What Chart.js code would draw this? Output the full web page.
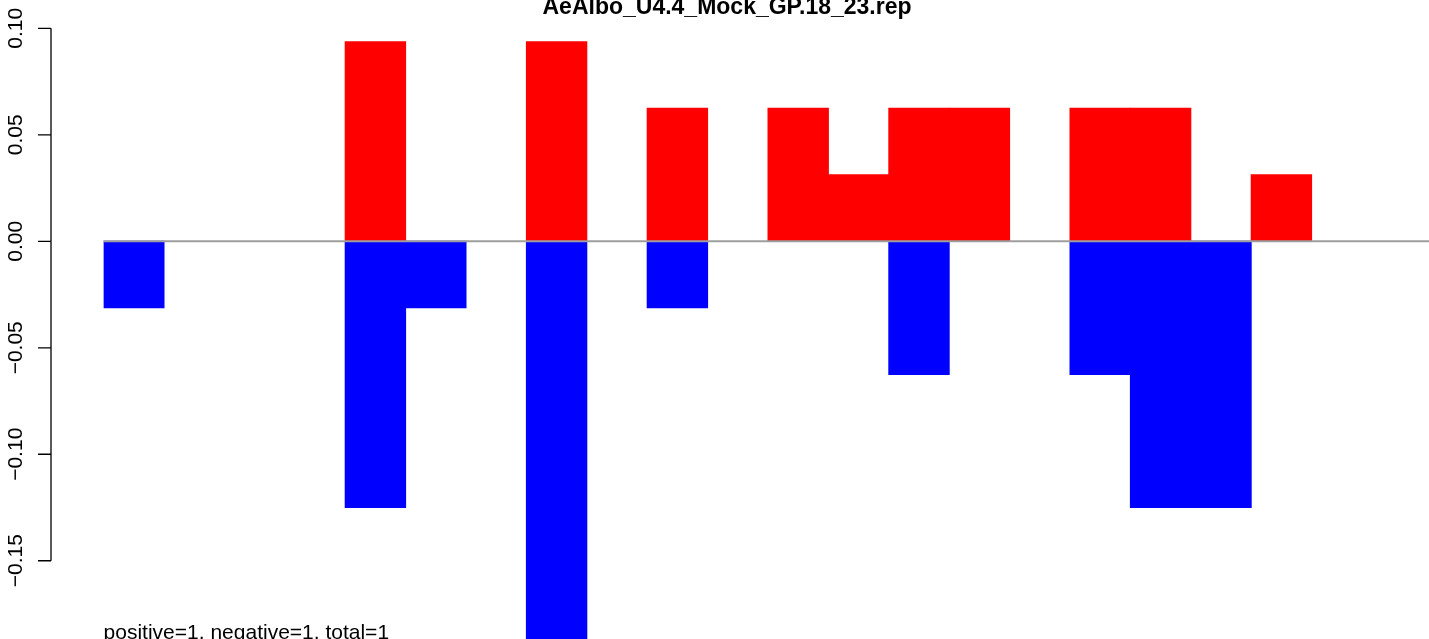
<!DOCTYPE html>
<html>
<head>
<meta charset="utf-8">
<title>AeAlbo_U4.4_Mock_GP.18_23.rep</title>
<script src="https://cdn.jsdelivr.net/npm/chart.js@4/dist/chart.umd.min.js"></script>
<style>
    html, body { margin: 0; padding: 0; background: #fff; overflow: hidden; }
    #wrap { width: 1429px; height: 639px; overflow: hidden; }
</style>
</head>
<body>
<div id="wrap"><canvas id="chart" width="1433" height="639"></canvas></div>
<script>
// Chart data
const chartTitle = 'AeAlbo_U4.4_Mock_GP.18_23.rep';
const footNote = 'positive=1, negative=1, total=1';
const categories = ['1', '2', '3', '4', '5', '6', '7', '8', '9', '10', '11',
    '12', '13', '14', '15', '16', '17', '18', '19', '20', '21', '22'];
const positiveValues = [0, 0, 0, 0, 0.09375, 0, 0, 0.09375, 0, 0.0625, 0,
    0.0625, 0.03125, 0.0625, 0.0625, 0, 0.0625, 0.0625, 0, 0.03125, 0, 0];
const negativeValues = [-0.03125, 0, 0, 0, -0.125, -0.03125, 0, -0.1875, 0, -0.03125, 0,
    0, 0, -0.0625, 0, 0, -0.0625, -0.125, -0.125, 0, 0, 0];
const yTicks = [-0.15, -0.10, -0.05, 0, 0.05, 0.10];
const yTickLabels = ['\u22120.15', '\u22120.10', '\u22120.05', '0.00', '0.05', '0.10'];
const yRange = [-0.18675, 0.11331];

const FONT = '"Liberation Sans", Arial, Helvetica, sans-serif';

// empty slots are left out so no hairline bar is drawn
function dropZeros(values) {
    return values.map(v => (v === 0 ? null : v));
}

// Draws the R-style axis, zero line, title and note
const baseGraphics = {
    id: 'baseGraphics',
    afterDatasetsDraw(chart) {
        const ctx = chart.ctx;
        const y = chart.scales.y;
        const x = chart.scales.x;
        const axisX = 51;

        ctx.save();

        // zero line
        const zeroY = y.getPixelForValue(0);
        ctx.strokeStyle = '#9e9e9e';
        ctx.lineWidth = 2;
        ctx.beginPath();
        ctx.moveTo(x.left, zeroY);
        ctx.lineTo(chart.width, zeroY);
        ctx.stroke();

        // y axis
        const top = y.getPixelForValue(yTicks[yTicks.length - 1]);
        const bottom = y.getPixelForValue(yTicks[0]);
        ctx.strokeStyle = '#000';
        ctx.lineWidth = 1.3;
        ctx.beginPath();
        ctx.moveTo(axisX, top);
        ctx.lineTo(axisX, bottom);
        yTicks.forEach(function(v) {
            const py = y.getPixelForValue(v);
            ctx.moveTo(axisX, py);
            ctx.lineTo(axisX - 13, py);
        });
        ctx.stroke();

        // rotated tick labels
        ctx.fillStyle = '#000';
        ctx.font = '21px ' + FONT;
        ctx.textAlign = 'center';
        ctx.textBaseline = 'alphabetic';
        yTicks.forEach(function(v, i) {
            const py = y.getPixelForValue(v);
            ctx.save();
            ctx.translate(22, py);
            ctx.rotate(-Math.PI / 2);
            ctx.fillText(yTickLabels[i], 0, 0);
            ctx.restore();
        });

        // title
        ctx.font = 'bold 23px ' + FONT;
        ctx.textAlign = 'center';
        ctx.fillText(chartTitle, 727, 14);

        // note at the bottom
        ctx.font = '21px ' + FONT;
        ctx.textAlign = 'left';
        ctx.fillText(footNote, x.left, 639);

        ctx.restore();
    }
};

function initializeChart() {
    const ctx = document.getElementById('chart').getContext('2d');
    new Chart(ctx, {
        type: 'bar',
        data: {
            labels: categories,
            datasets: [
                {
                    label: 'positive',
                    data: dropZeros(positiveValues),
                    backgroundColor: '#ff0000',
                    borderWidth: 0,
                    inflateAmount: 0.5,
                    barPercentage: 1,
                    categoryPercentage: 1
                },
                {
                    label: 'negative',
                    data: dropZeros(negativeValues),
                    backgroundColor: '#0000ff',
                    borderWidth: 0,
                    inflateAmount: 0.5,
                    barPercentage: 1,
                    categoryPercentage: 1
                }
            ]
        },
        options: {
            responsive: false,
            animation: false,
            layout: {
                padding: { left: 103.6, right: 0.6, top: 0, bottom: 0 }
            },
            plugins: {
                legend: { display: false },
                title: { display: false },
                tooltip: { enabled: false }
            },
            scales: {
                x: {
                    display: false,
                    stacked: true
                },
                y: {
                    display: false,
                    stacked: true,
                    min: yRange[0],
                    max: yRange[1]
                }
            }
        },
        plugins: [baseGraphics]
    });
}

document.addEventListener('DOMContentLoaded', initializeChart);
</script>
</body>
</html>
